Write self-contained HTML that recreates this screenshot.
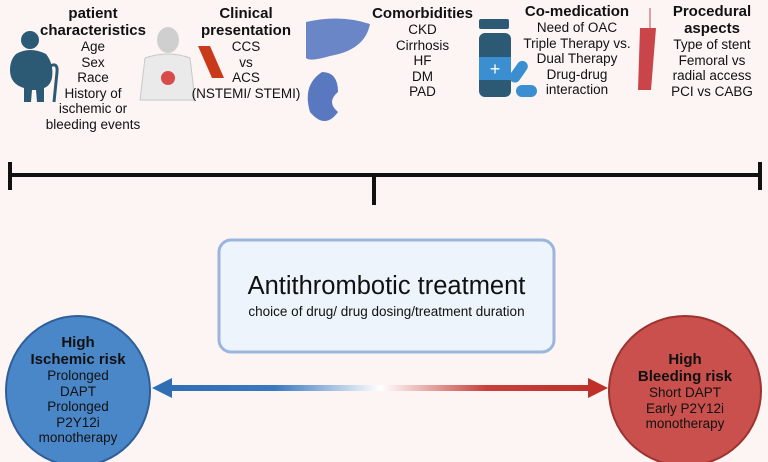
<!DOCTYPE html><html><head><style>
body{margin:0;width:768px;height:462px;background:#fcf5f4;font-family:"Liberation Sans",sans-serif;overflow:hidden;position:relative}
.t{position:absolute;text-align:center;color:#111;font-size:13.5px;line-height:15.5px}
.t b{font-size:15px;line-height:17px;display:block}
</style></head><body>
<svg width="768" height="462" style="position:absolute;left:0;top:0">
<defs><linearGradient id="g" x1="0" x2="1"><stop offset="0" stop-color="#2f6db5"/><stop offset="0.25" stop-color="#3a78c0"/><stop offset="0.5" stop-color="#ffffff"/><stop offset="0.75" stop-color="#c8403a"/><stop offset="1" stop-color="#c0302a"/></linearGradient></defs>
<!-- person -->
<circle cx="30" cy="40" r="9" fill="#2c5a75"/>
<path d="M16 54 Q30 46 46 54 Q54 64 52 78 Q50 86 44 88 L44 102 L37 102 L36 90 L32 90 L31 102 L24 102 L24 88 Q10 84 10 70 Q10 60 16 54Z" fill="#2c5a75"/>
<path d="M50 66 Q58 62 57 72 L54 102" stroke="#2c5a75" stroke-width="3" fill="none"/>
<!-- body sketch -->
<ellipse cx="168" cy="40" rx="11" ry="13" fill="#cfcfcf"/>
<path d="M145 58 Q168 50 190 58 L195 100 L140 100 Z" fill="#eaeaea" stroke="#c8c8c8"/>
<circle cx="168" cy="78" r="7" fill="#d84b4b"/>
<path d="M198 46 L210 46 L224 78 L212 78Z" fill="#c83a1a"/>
<!-- liver, kidney -->
<path d="M306 22 Q340 14 370 24 Q365 50 330 56 Q310 62 306 58Z" fill="#6b86c6"/>
<path d="M322 72 Q302 85 310 112 Q325 130 338 112 Q326 102 338 92 Q338 72 322 72Z" fill="#5a78c0"/>
<!-- bottle -->
<rect x="479" y="19" width="30" height="10" rx="2" fill="#2c5a75"/>
<rect x="479" y="33" width="32" height="64" rx="6" fill="#2c5a75"/>
<rect x="479" y="57" width="32" height="23" fill="#3b8fd0"/>
<text x="495" y="75" fill="#fff" font-size="18" text-anchor="middle" font-family="Liberation Sans">+</text>
<rect x="513" y="60" width="11" height="24" rx="5.5" fill="#3b8fd0" transform="rotate(35 519 72)"/>
<rect x="516" y="85" width="21" height="12" rx="6" fill="#3b8fd0"/>
<!-- stent -->
<path d="M640 28 L656 28 L651 90 L638 90Z" fill="#c9454a"/>
<line x1="650" y1="8" x2="650" y2="28" stroke="#e0a0a0" stroke-width="2"/>
<!-- timeline -->
<line x1="8" y1="175" x2="762" y2="175" stroke="#111" stroke-width="4"/>
<line x1="10" y1="162" x2="10" y2="190" stroke="#111" stroke-width="4"/>
<line x1="760" y1="162" x2="760" y2="190" stroke="#111" stroke-width="4"/>
<line x1="374" y1="175" x2="374" y2="205" stroke="#111" stroke-width="4"/>
<!-- box -->
<rect x="219" y="240" width="335" height="112" rx="12" fill="#eef4fb" stroke="#9bb5dd" stroke-width="3"/>
<!-- circles -->
<ellipse cx="78" cy="391" rx="72" ry="75" fill="#4a87c9" stroke="#2f5f9a" stroke-width="2"/>
<ellipse cx="685" cy="391" rx="76" ry="75" fill="#c9504c" stroke="#9c3330" stroke-width="2"/>
<!-- arrow -->
<rect x="168" y="385" width="425" height="6" fill="url(#g)"/>
<polygon points="152,388 172,378 172,398" fill="#2f6db5"/>
<polygon points="608,388 588,378 588,398" fill="#c0302a"/>
</svg>
<div class="t" style="left:28px;top:5px;width:130px"><b>patient<br>characteristics</b>Age<br>Sex<br>Race<br>History of<br>ischemic or<br>bleeding events</div>
<div class="t" style="left:186px;top:5px;width:120px"><b>Clinical<br>presentation</b>CCS<br>vs<br>ACS<br>(NSTEMI/ STEMI)</div>
<div class="t" style="left:370px;top:5px;width:105px"><b>Comorbidities</b>CKD<br>Cirrhosis<br>HF<br>DM<br>PAD</div>
<div class="t" style="left:517px;top:3px;width:120px"><b>Co-medication</b>Need of OAC<br>Triple Therapy vs.<br>Dual Therapy<br>Drug-drug<br>interaction</div>
<div class="t" style="left:662px;top:3px;width:100px"><b>Procedural<br>aspects</b>Type of stent<br>Femoral vs<br>radial access<br>PCI vs CABG</div>
<div class="t" style="left:219px;top:271px;width:335px;font-size:25.5px;line-height:30px">Antithrombotic treatment</div>
<div class="t" style="left:219px;top:304px;width:335px;font-size:13.5px">choice of drug/ drug dosing/treatment duration</div>
<div class="t" style="left:8px;top:334px;width:140px"><b>High<br>Ischemic risk</b>Prolonged<br>DAPT<br>Prolonged<br>P2Y12i<br>monotherapy</div>
<div class="t" style="left:615px;top:351px;width:140px"><b>High<br>Bleeding risk</b>Short DAPT<br>Early P2Y12i<br>monotherapy</div>
</body></html>
